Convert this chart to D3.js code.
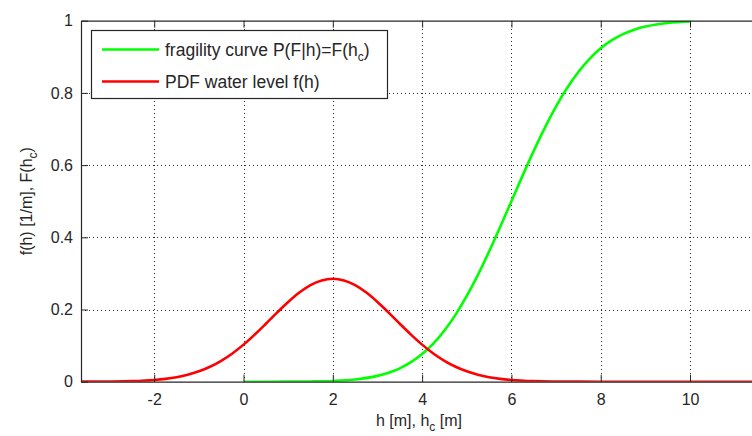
<!DOCTYPE html>
<html><head><meta charset="utf-8">
<script src="https://cdn.jsdelivr.net/npm/d3@7"></script>
<style>body{margin:0;background:#fff}svg{display:block;font-family:"Liberation Sans",Arial,sans-serif}</style>
</head><body><svg id="c" width="752" height="436"></svg>
<script>
// ---- data ----
const xTicks = [-2, 0, 2, 4, 6, 8, 10];
const xTickLabels = ["-2", "0", "2", "4", "6", "8", "10"];
const yTicks = [0, 0.2, 0.4, 0.6, 0.8, 1];
const yTickLabels = ["0", "0.2", "0.4", "0.6", "0.8", "1"];
const pdfH = [-3.64, -3, -2.5, -2, -1.75, -1.5, -1.25, -1, -0.75, -0.5, -0.25, 0, 0.25, 0.5, 0.75, 1, 1.25, 1.5, 1.75, 2,
  2.25, 2.5, 2.75, 3, 3.25, 3.5, 3.75, 4, 4.25, 4.5, 4.75, 5, 5.25, 5.5, 5.75, 6, 6.5, 7, 7.5, 8, 11.5];
const pdfF = [0.0001, 0.0005, 0.0016, 0.0048, 0.0079, 0.0125, 0.0192, 0.0287, 0.0414, 0.0579, 0.0783, 0.1027, 0.1305, 0.1605, 0.1913, 0.2208, 0.2469, 0.2674, 0.2805, 0.285,
  0.2805, 0.2674, 0.2469, 0.2208, 0.1913, 0.1605, 0.1305, 0.1027, 0.0783, 0.0579, 0.0414, 0.0287, 0.0192, 0.0125, 0.0079, 0.0048, 0.0016, 0.0005, 0.0001, 0, 0];
const fragH = [0, 0.5, 1, 1.5, 2, 2.5, 3, 3.25, 3.5, 3.75, 4, 4.25, 4.5, 4.75, 5, 5.25, 5.5, 5.75, 6, 6.25, 6.5, 6.75, 7, 7.25, 7.5, 7.75, 8, 8.25, 8.5, 8.75, 9, 9.5, 10];
const fragF = [0, 0.00004, 0.0002, 0.0007, 0.0021, 0.0062, 0.0161, 0.0248, 0.0371, 0.054, 0.0766, 0.1056, 0.142, 0.1859, 0.2375, 0.2961, 0.3605, 0.4291, 0.5, 0.5709, 0.6395, 0.7039, 0.7625, 0.8141, 0.858, 0.8944, 0.9234, 0.946, 0.9629, 0.9752, 0.9839, 0.9938, 0.9979];
const legendLabels = ["fragility curve P(F|h)=F(h", "PDF water level f(h)"];

// ---- layout ----
const L = 81, R = 757, T = 20.7, B = 381.7;
const svg = d3.select("#c");
const x = d3.scaleLinear().domain([-3.64, 11.5]).range([L, R]);
const y = d3.scaleLinear().domain([0, 1]).range([B, T]);
const ink = "#262626";

svg.append("defs").append("clipPath").attr("id", "clip")
  .append("rect").attr("x", L).attr("y", T).attr("width", R - L).attr("height", B - T);

// grid
const grid = svg.append("g").attr("stroke", ink).attr("stroke-width", 1).attr("stroke-dasharray", "1,3").attr("shape-rendering", "crispEdges");
xTicks.forEach(t => grid.append("line").attr("x1", Math.round(x(t)) + 0.5).attr("x2", Math.round(x(t)) + 0.5).attr("y1", T).attr("y2", B));
yTicks.slice(1, -1).forEach(t => grid.append("line").attr("y1", Math.round(y(t)) + 0.5).attr("y2", Math.round(y(t)) + 0.5).attr("x1", L).attr("x2", R));

// curves
const line = d3.line().x(d => x(d[0])).y(d => y(d[1])).curve(d3.curveMonotoneX);
const g = svg.append("g").attr("clip-path", "url(#clip)");
g.append("path").datum(fragH.map((h, i) => [h, fragF[i]])).attr("d", line)
  .attr("fill", "none").attr("stroke", "#00ff00").attr("stroke-width", 2.6);
g.append("path").datum(pdfH.map((h, i) => [h, pdfF[i]])).attr("d", line)
  .attr("fill", "none").attr("stroke", "#ff0000").attr("stroke-width", 2.6);

// axes
const fs = 16;
const xAxB = d3.axisBottom(x).tickValues(xTicks).tickSizeInner(-7).tickSizeOuter(0).tickPadding(12)
  .tickFormat((d, i) => xTickLabels[i]);
const gxb = svg.append("g").attr("transform", `translate(0,${B})`).call(xAxB);
const gxt = svg.append("g").attr("transform", `translate(0,${T})`).call(d3.axisTop(x).tickValues(xTicks).tickSizeInner(-7).tickSizeOuter(0).tickFormat(""));
const gyl = svg.append("g").attr("transform", `translate(${L},0)`)
  .call(d3.axisLeft(y).tickValues(yTicks).tickSizeInner(-7).tickSizeOuter(0).tickPadding(8).tickFormat((d, i) => yTickLabels[i]));
[gxb, gxt, gyl].forEach(a => {
  a.selectAll("path.domain").attr("stroke", ink).attr("stroke-width", 1.2);
  a.selectAll(".tick line").attr("stroke", ink).attr("stroke-width", 1);
  a.selectAll("text").attr("fill", ink).attr("font-size", fs).attr("font-family", "Liberation Sans, Arial, sans-serif");
});
gxb.selectAll(".tick text").attr("dy", "0.71em");

// axis labels
const xl = svg.append("text").attr("x", (L + R) / 2).attr("y", 426).attr("text-anchor", "middle")
  .attr("font-size", fs).attr("fill", ink);
xl.append("tspan").text("h [m], h");
xl.append("tspan").text("c").attr("font-size", 12).attr("dy", 5);
xl.append("tspan").text(" [m]").attr("dy", -5);

const yl = svg.append("text").attr("transform", `translate(32,${(T + B) / 2}) rotate(-90)`).attr("text-anchor", "middle")
  .attr("font-size", fs).attr("fill", ink);
yl.append("tspan").text("f(h) [1/m], F(h");
yl.append("tspan").text("c").attr("font-size", 12).attr("dy", 5);
yl.append("tspan").text(")").attr("dy", -5);

// legend
const lg = svg.append("g");
lg.append("rect").attr("x", 91.5).attr("y", 30.5).attr("width", 296).attr("height", 68)
  .attr("fill", "#fff").attr("stroke", ink).attr("stroke-width", 1.2);
const rows = [{c: "#00ff00", y: 49.5}, {c: "#ff0000", y: 81.5}];
rows.forEach((r, i) => {
  lg.append("line").attr("x1", 102).attr("x2", 159).attr("y1", r.y).attr("y2", r.y)
    .attr("stroke", r.c).attr("stroke-width", 2.6);
  const t = lg.append("text").attr("x", 165).attr("y", r.y + 6.5).attr("font-size", 17.5).attr("fill", ink);
  t.append("tspan").text(legendLabels[i]);
  if (i === 0) {
    t.append("tspan").text("c").attr("font-size", 12).attr("dy", 5);
    t.append("tspan").text(")").attr("dy", -5);
  }
});
</script></body></html>
